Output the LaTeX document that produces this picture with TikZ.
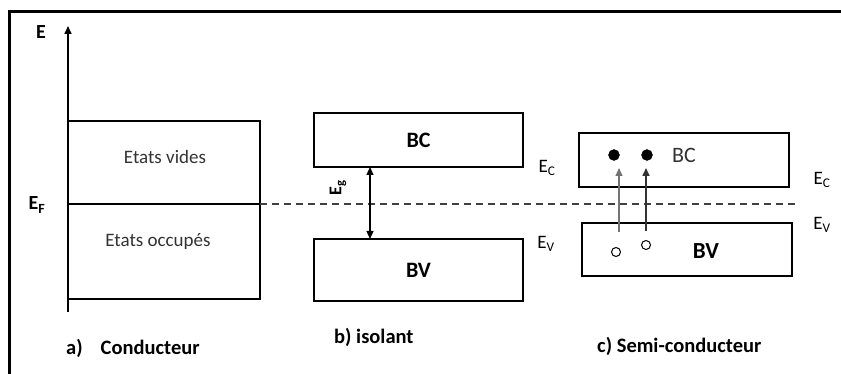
\documentclass[tikz,border=0pt]{standalone}
\usepackage{fontspec}
\setmainfont{Carlito}
\usetikzlibrary{arrows.meta}
\begin{document}
\begin{tikzpicture}[x=1pt,y=-1pt,
  band/.style={draw=black,line width=2pt,inner sep=0pt},
  lbl/.style={font=\fontsize{19}{21}\selectfont,inner sep=0pt},
  blbl/.style={font=\fontsize{19}{21}\selectfont\bfseries,inner sep=0pt},
  captxt/.style={font=\fontsize{20.5}{23}\selectfont\bfseries,inner sep=0pt,anchor=west},
  elec/.style={circle,fill=black,draw=black,minimum size=11pt,inner sep=0pt},
  hole/.style={circle,draw=black,line width=1pt,minimum size=9pt,inner sep=0pt},
  tipend/.style={-{Triangle[length=8pt,width=7pt]}},
  dtip/.style={{Triangle[length=8pt,width=7pt]}-{Triangle[length=8pt,width=7pt]}}
]
\useasboundingbox (0,0) rectangle (841,374);
\fill[white] (0,0) rectangle (841,374);
% frame
\draw[line width=3pt] (9.5,374) -- (9.5,11.5) -- (841,11.5);

% axis
\coordinate (ab) at (68,312);
\coordinate (at) at (68,26);
\draw[line width=1.6pt,tipend] (ab) -- (at);
\node[blbl,font=\fontsize{20}{22}\selectfont\bfseries] (Elab) at (41,32) {E};

% a) conductor
\node[band,minimum width=192pt,minimum height=178pt] (cond) at (164,210) {};
\coordinate (fl) at (68,204);
\coordinate (fr) at (260,204);
\coordinate (de) at (795,204);
\draw[line width=1.4pt] (fl) -- (fr);
\draw[line width=1.4pt,draw=black!75,dash pattern=on 7pt off 5pt] (fr) -- (de);
\node[lbl,text=black!80] (vides) at (165,157) {Etats vides};
\node[lbl,text=black!80] (occ) at (158,242) {Etats occupés};
\node[blbl,font=\fontsize{20}{22}\selectfont\bfseries] (EF) at (37,205) {E\textsubscript{F}};

% b) isolant
\node[band,minimum width=209pt,minimum height=54pt,font=\fontsize{22}{24}\selectfont\bfseries] (ibc) at (418.5,140) {BC};
\node[band,minimum width=209pt,minimum height=61pt,font=\fontsize{22}{24}\selectfont\bfseries] (ibv) at (418.5,270) {BV};
\coordinate (gt) at (370,167);
\coordinate (gb) at (370,239);
\draw[line width=1.2pt,dtip] (gb) -- (gt);
\node[blbl,rotate=90,font=\fontsize{18}{20}\selectfont\bfseries] (Eg) at (338,188) {E\textsubscript{g}};
\node[lbl] (iEc) at (547,168) {E\textsubscript{C}};
\node[lbl] (iEv) at (546,244) {E\textsubscript{V}};

% c) semi-conducteur
\node[band,minimum width=210pt,minimum height=54pt] (sbc) at (684,160) {};
\node[band,minimum width=210pt,minimum height=53pt] (sbv) at (687,249.5) {};
\node[lbl,font=\fontsize{22}{24}\selectfont,text=black!80] (bctxt) at (684,155) {BC};
\node[blbl,font=\fontsize{23}{25}\selectfont\bfseries] (bvtxt) at (706,251) {BV};
\node[elec] (e1) at (614,155) {};
\node[elec] (e2) at (647,155) {};
\node[hole] (h1) at (616,252) {};
\node[hole] (h2) at (646,245) {};
\coordinate (a1b) at (619,232);
\coordinate (a1t) at (619,168);
\coordinate (a2b) at (646,231);
\coordinate (a2t) at (646,168);
\draw[line width=1.1pt,draw=black!55,tipend] (a1b) -- (a1t);
\draw[line width=1.6pt,draw=black!80,tipend] (a2b) -- (a2t);
\node[lbl] (sEc) at (822,180) {E\textsubscript{C}};
\node[lbl] (sEv) at (822,225) {E\textsubscript{V}};

% captions
\node[captxt] (ca) at (66,348) {a)\hspace{18pt}Conducteur};
\node[captxt] (cb) at (334,337) {b) isolant};
\node[captxt] (cc) at (597,346) {c) Semi-conducteur};
\end{tikzpicture}
\end{document}
